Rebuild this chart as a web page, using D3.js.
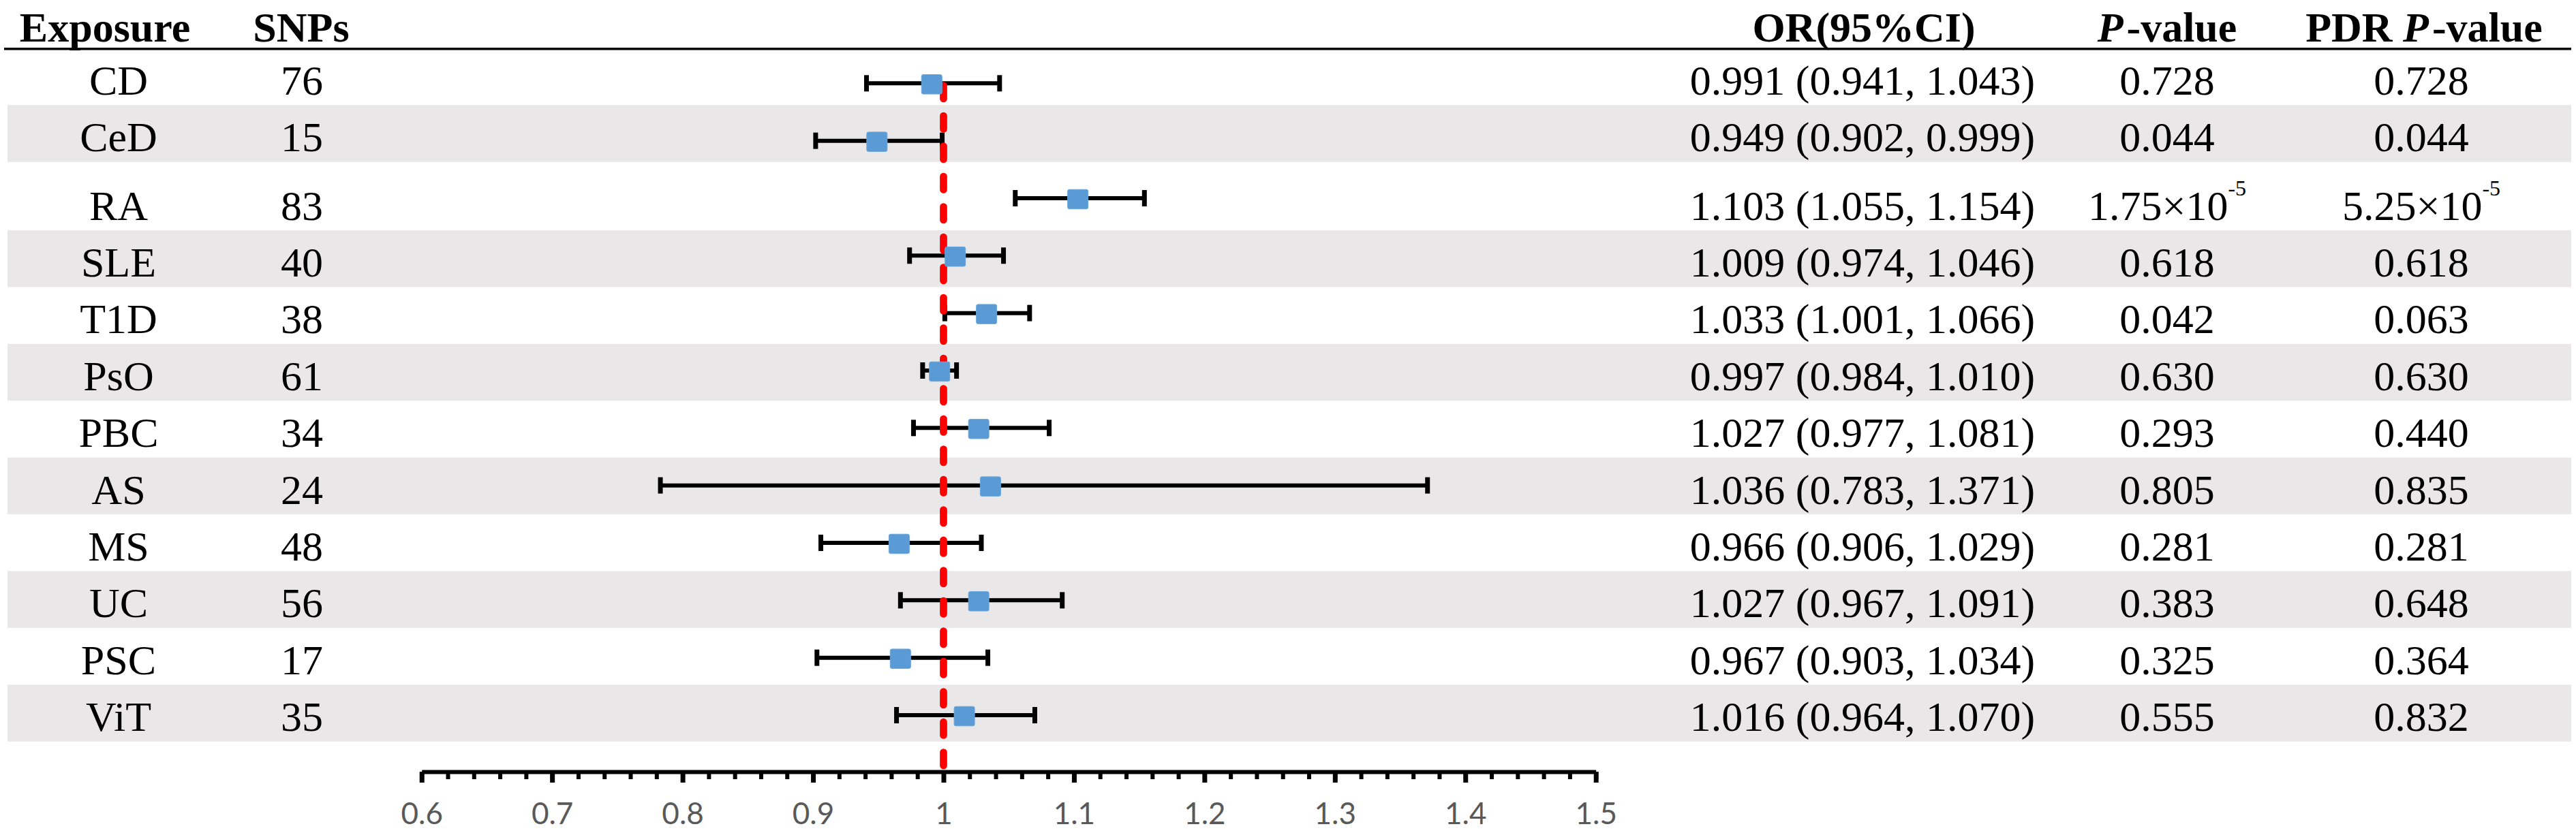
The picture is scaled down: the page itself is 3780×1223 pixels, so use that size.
<!DOCTYPE html>
<html>
<head>
<meta charset="utf-8">
<script src="https://cdn.jsdelivr.net/npm/d3@7"></script>
<style>
  html, body { margin: 0; padding: 0; background: #ffffff; }
  svg { display: block; }
</style>
</head>
<body>
<svg id="chart" width="3780" height="1223"></svg>
<script>
// ---------------- data ----------------
const exposures = ["CD","CeD","RA","SLE","T1D","PsO","PBC","AS","MS","UC","PSC","ViT"];
const snps      = [76, 15, 83, 40, 38, 61, 34, 24, 48, 56, 17, 35];
const orValues  = [0.991, 0.949, 1.103, 1.009, 1.033, 0.997, 1.027, 1.036, 0.966, 1.027, 0.967, 1.016];
const ciLower   = [0.941, 0.902, 1.055, 0.974, 1.001, 0.984, 0.977, 0.783, 0.906, 0.967, 0.903, 0.964];
const ciUpper   = [1.043, 0.999, 1.154, 1.046, 1.066, 1.010, 1.081, 1.371, 1.029, 1.091, 1.034, 1.070];
const pValues   = ["0.728","0.044","1.75×10^-5","0.618","0.042","0.630","0.293","0.805","0.281","0.383","0.325","0.555"];
const pdrValues = ["0.728","0.044","5.25×10^-5","0.618","0.063","0.630","0.440","0.835","0.281","0.648","0.364","0.832"];
const axisTickLabels = [0.6, 0.7, 0.8, 0.9, 1.0, 1.1, 1.2, 1.3, 1.4, 1.5];
const minorStep = 0.02;
const nullValue = 1;

// ---------------- layout ----------------
const svg = d3.select("#chart");
const serif = "'Liberation Serif','Times New Roman',serif";
const bodySize = 62, headSize = 62;

const x = d3.scaleLinear().domain([0.6, 1.5]).range([618.7, 2341.7]);
const yMark = d3.scalePoint().domain(exposures).range([122.3, 1050]);

// table rows (taller when the row carries a superscript)
const rowH = 83.4, rowHSup = 100.4, tableTop = 70.9;
const rows = [];
let acc = tableTop;
exposures.forEach((e, i) => {
  const h = (pValues[i].includes("^") || pdrValues[i].includes("^")) ? rowHSup : rowH;
  rows.push({ i, top: acc, h });
  acc += h;
});

// bands
svg.append("g").selectAll("rect")
  .data(rows.filter(r => r.i % 2 === 1))
  .join("rect")
  .attr("x", 11).attr("width", 3773 - 11)
  .attr("y", r => r.top).attr("height", r => r.h)
  .attr("fill", "#e9e7e8");

// header line
svg.append("line")
  .attr("x1", 6).attr("x2", 3773)
  .attr("y1", 71.7).attr("y2", 71.7)
  .attr("stroke", "#000").attr("stroke-width", 3.4);

// headers
const headY = 61;
const headG = svg.append("g")
  .attr("font-family", serif).attr("font-weight", "bold")
  .attr("font-size", headSize).attr("fill", "#000").attr("text-anchor", "middle");
headG.append("text").attr("x", 154).attr("y", headY).text("Exposure");
headG.append("text").attr("x", 442).attr("y", headY).text("SNPs");
headG.append("text").attr("x", 2735).attr("y", headY).text("OR(95%CI)");
const ph = headG.append("text").attr("x", 3180).attr("y", headY);
ph.append("tspan").attr("font-style", "italic").text("P");
ph.append("tspan").attr("dx", 5).text("-value");
const pdh = headG.append("text").attr("x", 3557).attr("y", headY);
pdh.append("tspan").text("PDR ");
pdh.append("tspan").attr("font-style", "italic").text("P");
pdh.append("tspan").attr("dx", 5).text("-value");

// body text
const bodyG = svg.append("g")
  .attr("font-family", serif).attr("font-size", bodySize)
  .attr("fill", "#000").attr("text-anchor", "middle");
const baseY = r => r.top + r.h - 15.5;

function addValue(g, str, xc, y) {
  const t = g.append("text").attr("x", xc).attr("y", y);
  const parts = str.split("^");
  t.append("tspan").text(parts[0]);
  if (parts.length > 1) {
    t.append("tspan").attr("font-size", 32).attr("dy", -36).text(parts[1]);
  }
}

rows.forEach(r => {
  const i = r.i, y = baseY(r);
  bodyG.append("text").attr("x", 174).attr("y", y).text(exposures[i]);
  bodyG.append("text").attr("x", 443).attr("y", y).text(snps[i]);
  bodyG.append("text").attr("x", 2733).attr("y", y)
    .text(`${orValues[i].toFixed(3)} (${ciLower[i].toFixed(3)}, ${ciUpper[i].toFixed(3)})`);
  addValue(bodyG, pValues[i], 3180, y);
  addValue(bodyG, pdrValues[i], 3553, y);
});

// ---------------- forest plot ----------------
const axisY = 1133;
const data = exposures.map((e, i) => ({ e, or: orValues[i], lo: ciLower[i], hi: ciUpper[i] }));

// error bars
const eb = svg.append("g").attr("stroke", "#000");
eb.selectAll("line.bar").data(data).join("line").attr("class", "bar")
  .attr("x1", d => x(d.lo)).attr("x2", d => x(d.hi))
  .attr("y1", d => yMark(d.e)).attr("y2", d => yMark(d.e))
  .attr("stroke-width", 6);
eb.selectAll("line.capL").data(data).join("line").attr("class", "capL")
  .attr("x1", d => x(d.lo)).attr("x2", d => x(d.lo))
  .attr("y1", d => yMark(d.e) - 12).attr("y2", d => yMark(d.e) + 12)
  .attr("stroke-width", 7);
eb.selectAll("line.capR").data(data).join("line").attr("class", "capR")
  .attr("x1", d => x(d.hi)).attr("x2", d => x(d.hi))
  .attr("y1", d => yMark(d.e) - 12).attr("y2", d => yMark(d.e) + 12)
  .attr("stroke-width", 7);

// null reference line
svg.append("line")
  .attr("x1", x(nullValue)).attr("x2", x(nullValue))
  .attr("y1", 125.5).attr("y2", axisY - 4)
  .attr("stroke", "#ff0000").attr("stroke-width", 10.7)
  .attr("stroke-linecap", "round")
  .attr("stroke-dasharray", "19.5 25");

// squares
const sq = 30, sqh = 28.5;
svg.append("g").selectAll("rect").data(data).join("rect")
  .attr("x", d => x(d.or) - sq / 2).attr("y", d => yMark(d.e) - sqh / 2 + 1.5)
  .attr("width", sq).attr("height", sqh).attr("rx", 2.5)
  .attr("fill", "#5b9bd5").attr("stroke", "#6ba6dc").attr("stroke-width", 1);

// axis: minor ticks
const minorTicks = d3.range(0, Math.round((1.5 - 0.6) / minorStep) + 1).map(k => +(0.6 + k * minorStep).toFixed(2));
const minorAxis = d3.axisBottom(x).tickValues(minorTicks).tickSize(11).tickSizeOuter(0).tickFormat("");
const gMinor = svg.append("g").attr("transform", `translate(0,${axisY})`).call(minorAxis);
gMinor.select(".domain").remove();
gMinor.selectAll(".tick line").attr("stroke", "#000").attr("stroke-width", 6);

// axis: major ticks + labels
const majorAxis = d3.axisBottom(x).tickValues(axisTickLabels).tickSize(16).tickSizeOuter(0)
  .tickPadding(30).tickFormat(d => d3.format("")(+d.toFixed(1)));
const gMajor = svg.append("g").attr("transform", `translate(0,${axisY})`).call(majorAxis);
gMajor.select(".domain").attr("stroke", "#000").attr("stroke-width", 6);
gMajor.selectAll(".tick line").attr("stroke", "#000").attr("stroke-width", 7);
gMajor.selectAll(".tick text")
  .attr("font-family", "Lato, 'Liberation Sans', sans-serif")
  .attr("font-size", 44).attr("fill", "#595959");
</script>
</body>
</html>
